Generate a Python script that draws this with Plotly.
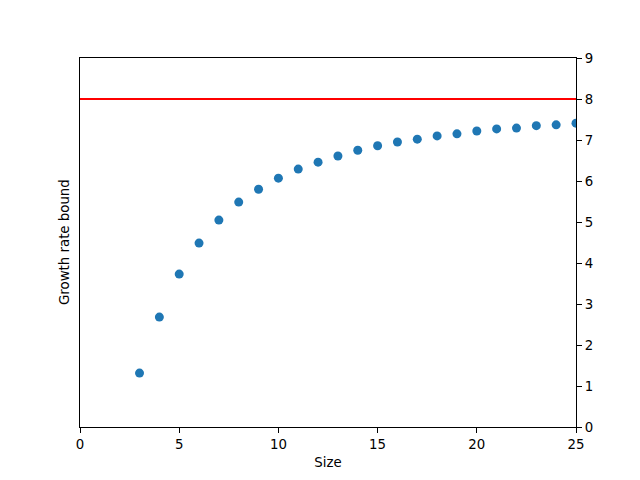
import plotly.graph_objects as go

sizes = list(range(3, 26))
bounds = [1.315, 2.68, 3.73, 4.485, 5.046, 5.485, 5.80, 6.07, 6.29, 6.46, 6.61, 6.75,
          6.86, 6.95, 7.02, 7.10, 7.15, 7.22, 7.27, 7.29, 7.35, 7.37, 7.41]
limit_value = 8
x_range = [0, 25]
y_range = [0, 9]

fig = go.Figure()
fig.add_trace(go.Scatter(
    x=x_range, y=[limit_value, limit_value], mode="lines",
    line=dict(color="red", width=2), showlegend=False, hoverinfo="skip"))
fig.add_trace(go.Scatter(
    x=sizes, y=bounds, mode="markers",
    marker=dict(color="#1f77b4", size=9, line=dict(width=0)),
    showlegend=False))

font = dict(family="DejaVu Sans", size=13.33, color="black")
fig.update_layout(
    width=640, height=480,
    margin=dict(l=72, r=72, t=50, b=61),
    plot_bgcolor="white", paper_bgcolor="white",
    font=font,
    xaxis=dict(range=x_range, dtick=5, ticks="outside", ticklen=5, tickwidth=1,
               tickcolor="black", showline=True, linecolor="black", linewidth=1,
               mirror=True, showgrid=False, zeroline=False,
               title=dict(text="Size", font=font, standoff=6)),
    yaxis=dict(range=y_range, dtick=1, side="right", ticks="outside", ticklen=5,
               tickwidth=1, tickcolor="black", showline=True, linecolor="black",
               linewidth=1, mirror=True, showgrid=False, zeroline=False),
    annotations=[dict(text="Growth rate bound", xref="paper", yref="paper",
                      x=0, y=0.5, xanchor="right", yanchor="middle",
                      xshift=-6, textangle=-90, showarrow=False, font=font)],
)

fig.write_html("out.html")
